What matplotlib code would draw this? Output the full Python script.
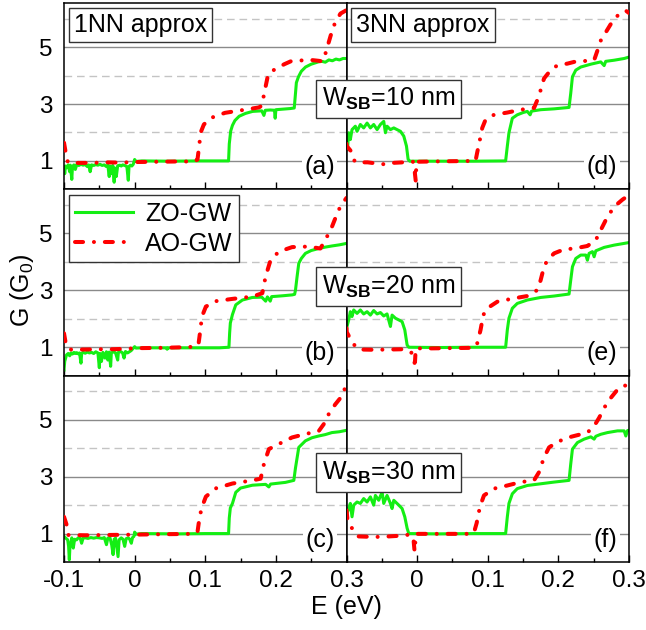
import matplotlib
matplotlib.use("Agg")
import matplotlib.pyplot as plt
from matplotlib.ticker import FixedLocator

plt.rcParams['font.family'] = ['Liberation Sans', 'DejaVu Sans']
plt.rcParams['mathtext.fontset'] = 'custom'
plt.rcParams['mathtext.rm'] = 'Liberation Sans'
plt.rcParams['mathtext.it'] = 'Liberation Sans:italic'
plt.rcParams['mathtext.bf'] = 'Liberation Sans:bold'

# ---------------- data: (E [eV], G [G0]) ----------------
# 1NN approximation, W_SB = 10 nm
ZO_A = [(-0.100, 0.80), (-0.099, 0.55), (-0.098, 0.82), (-0.096, 0.76), (-0.094, 0.86),
        (-0.092, 0.62), (-0.091, 0.85), (-0.089, 0.35), (-0.088, 0.80), (-0.086, 0.86),
        (-0.084, 0.70), (-0.082, 0.87), (-0.079, 0.84), (-0.076, 0.88), (-0.073, 0.85),
        (-0.070, 0.87), (-0.067, 0.80), (-0.065, 0.86), (-0.063, 0.62), (-0.061, 0.86),
        (-0.058, 0.84), (-0.055, 0.87), (-0.052, 0.85), (-0.049, 0.88), (-0.046, 0.84),
        (-0.043, 0.86), (-0.040, 0.80), (-0.038, 0.86), (-0.036, 0.45), (-0.035, 0.82),
        (-0.033, 0.55), (-0.031, 0.84), (-0.029, 0.25), (-0.028, 0.75), (-0.026, 0.45),
        (-0.024, 0.83), (-0.021, 0.85), (-0.019, 0.82), (-0.017, 0.86), (-0.014, 0.84),
        (-0.011, 0.80), (-0.009, 0.32), (-0.008, 0.80), (-0.006, 0.85), (-0.004, 0.82),
        (-0.002, 0.88), (0.000, 1.05), (0.002, 0.98), (0.010, 1.00), (0.050, 0.99),
        (0.090, 1.00), (0.120, 1.00), (0.133, 1.00), (0.134, 1.60), (0.136, 2.05),
        (0.1385, 2.25), (0.142, 2.42), (0.148, 2.57), (0.157, 2.67), (0.167, 2.74),
        (0.180, 2.76), (0.183, 2.60), (0.185, 2.78), (0.192, 2.79), (0.198, 2.78),
        (0.199, 2.50), (0.200, 2.80), (0.210, 2.82), (0.220, 2.84), (0.226, 2.86),
        (0.2275, 3.30), (0.229, 3.75), (0.232, 3.96), (0.236, 4.15), (0.242, 4.30),
        (0.250, 4.40), (0.260, 4.48), (0.265, 4.50), (0.270, 4.47), (0.275, 4.55),
        (0.280, 4.52), (0.285, 4.58), (0.290, 4.55), (0.295, 4.60), (0.300, 4.60)]
AO_A = [(-0.100, 1.64), (-0.098, 1.35), (-0.096, 1.05), (-0.094, 0.94), (-0.080, 0.93),
        (-0.060, 0.93), (-0.040, 0.95), (-0.020, 0.94), (0.000, 0.96), (0.030, 0.97),
        (0.060, 0.98), (0.085, 0.98), (0.089, 1.05), (0.0915, 1.55), (0.0935, 2.00),
        (0.098, 2.28), (0.104, 2.42), (0.109, 2.52), (0.128, 2.69), (0.156, 2.80),
        (0.176, 2.88), (0.180, 2.94), (0.1845, 3.50), (0.189, 4.04), (0.196, 4.18),
        (0.203, 4.28), (0.212, 4.40), (0.221, 4.50), (0.235, 4.53), (0.249, 4.55),
        (0.260, 4.52), (0.266, 4.50), (0.2705, 4.80), (0.2775, 5.40), (0.282, 5.75),
        (0.287, 6.00), (0.2915, 6.18), (0.300, 6.30)]

# 1NN approximation, W_SB = 20 nm
ZO_B = [(-0.100, 0.20), (-0.099, 0.50), (-0.0965, 0.73), (-0.094, 0.78), (-0.092, 0.70),
        (-0.090, 0.80), (-0.088, 0.76), (-0.086, 0.82), (-0.084, 0.78), (-0.082, 0.81),
        (-0.080, 0.77), (-0.078, 0.80), (-0.076, 0.44), (-0.075, 0.78), (-0.073, 0.82),
        (-0.070, 0.79), (-0.067, 0.83), (-0.064, 0.80), (-0.061, 0.82), (-0.058, 0.78),
        (-0.055, 0.84), (-0.052, 0.80), (-0.050, 0.28), (-0.049, 0.78), (-0.047, 0.50),
        (-0.045, 0.82), (-0.042, 0.62), (-0.040, 0.84), (-0.038, 0.55), (-0.036, 0.83),
        (-0.034, 0.33), (-0.033, 0.80), (-0.030, 0.84), (-0.027, 0.80), (-0.024, 0.55),
        (-0.023, 0.82), (-0.020, 0.85), (-0.017, 0.80), (-0.015, 0.62), (-0.013, 0.85),
        (-0.010, 0.80), (-0.005, 0.88), (0.000, 1.02), (0.002, 0.97), (0.010, 0.98),
        (0.045, 0.98), (0.046, 0.93), (0.047, 0.98), (0.090, 0.98), (0.120, 0.98),
        (0.1335, 1.00), (0.1345, 1.50), (0.1355, 1.85), (0.1385, 2.15), (0.1432, 2.49),
        (0.1526, 2.66), (0.1667, 2.75), (0.180, 2.76), (0.1855, 2.62), (0.188, 2.77),
        (0.192, 2.62), (0.194, 2.78), (0.200, 2.79), (0.210, 2.81), (0.223, 2.84),
        (0.2265, 2.86), (0.2277, 3.00), (0.2300, 3.48), (0.2324, 3.95), (0.236, 4.12),
        (0.2418, 4.30), (0.250, 4.40), (0.2606, 4.47), (0.270, 4.52), (0.2793, 4.56),
        (0.290, 4.60), (0.300, 4.65)]
AO_B = [(-0.100, 1.49), (-0.098, 1.20), (-0.096, 1.02), (-0.0915, 0.92), (-0.070, 0.92),
        (-0.050, 0.93), (-0.030, 0.93), (-0.010, 0.95), (0.010, 0.97), (0.040, 0.98),
        (0.070, 1.00), (0.087, 1.02), (0.0906, 1.14), (0.093, 1.60), (0.0953, 2.08),
        (0.1009, 2.43), (0.115, 2.62), (0.1385, 2.70), (0.1667, 2.78), (0.1808, 2.90),
        (0.1854, 3.48), (0.1925, 4.07), (0.2042, 4.36), (0.223, 4.52), (0.2465, 4.54),
        (0.2629, 4.47), (0.270, 4.77), (0.2793, 5.23), (0.2887, 5.82), (0.2958, 6.11),
        (0.300, 6.25)]

# 1NN approximation, W_SB = 30 nm
ZO_C = [(-0.100, 0.90), (-0.098, 0.85), (-0.0948, 0.78), (-0.0935, 0.55), (-0.0925, 0.08),
        (-0.0915, 0.60), (-0.0901, 0.70), (-0.089, 0.85), (-0.0869, 0.49), (-0.085, 0.80),
        (-0.0822, 0.78), (-0.080, 0.85), (-0.077, 0.83), (-0.0751, 0.66), (-0.073, 0.84),
        (-0.070, 0.85), (-0.066, 0.83), (-0.062, 0.86), (-0.058, 0.84), (-0.054, 0.86),
        (-0.050, 0.85), (-0.046, 0.83), (-0.043, 0.86), (-0.0399, 0.61), (-0.038, 0.84),
        (-0.035, 0.86), (-0.0325, 0.60), (-0.0305, 0.26), (-0.029, 0.80), (-0.027, 0.84),
        (-0.0235, 0.19), (-0.022, 0.78), (-0.019, 0.85), (-0.0165, 0.80), (-0.0141, 0.55),
        (-0.012, 0.82), (-0.009, 0.85), (-0.007, 0.80), (-0.0047, 0.66), (-0.003, 0.86),
        (-0.001, 0.90), (0.000, 1.05), (0.002, 0.98), (0.010, 1.00), (0.060, 0.99),
        (0.100, 1.00), (0.133, 1.00), (0.134, 1.55), (0.1355, 1.90), (0.1385, 2.06),
        (0.1432, 2.45), (0.150, 2.60), (0.1667, 2.70), (0.1855, 2.73), (0.190, 2.64),
        (0.1925, 2.74), (0.2136, 2.80), (0.2254, 2.87), (0.2277, 3.30), (0.2324, 4.03),
        (0.2418, 4.26), (0.2512, 4.37), (0.2606, 4.43), (0.270, 4.48), (0.2793, 4.55),
        (0.290, 4.58), (0.300, 4.63)]
AO_C = [(-0.100, 1.59), (-0.0962, 1.30), (-0.0939, 0.95), (-0.070, 0.94), (-0.040, 0.95),
        (-0.010, 0.96), (0.020, 0.97), (0.050, 0.98), (0.085, 0.99), (0.0892, 1.09),
        (0.0915, 1.50), (0.0948, 1.90), (0.1009, 2.30), (0.115, 2.59), (0.1385, 2.76),
        (0.1667, 2.87), (0.1784, 2.93), (0.1831, 3.45), (0.1901, 3.97), (0.2042, 4.15),
        (0.223, 4.38), (0.2418, 4.50), (0.2606, 4.60), (0.2676, 4.84), (0.2746, 5.19),
        (0.284, 5.54), (0.2934, 5.83), (0.298, 6.12), (0.300, 6.20)]

# 3NN approximation, W_SB = 10 nm
ZO_D = [(-0.100, 1.40), (-0.0983, 1.52), (-0.0969, 1.99), (-0.0946, 1.75), (-0.0922, 2.10),
        (-0.0875, 2.22), (-0.0851, 2.04), (-0.0804, 2.28), (-0.0757, 2.16), (-0.0709, 2.33),
        (-0.0662, 2.16), (-0.0615, 2.28), (-0.0567, 2.10), (-0.052, 2.28), (-0.0473, 2.39),
        (-0.0449, 1.99), (-0.0426, 2.22), (-0.0378, 2.10), (-0.0331, 2.16), (-0.0284, 2.10),
        (-0.0236, 2.04), (-0.0189, 1.87), (-0.0151, 1.52), (-0.0128, 1.06), (-0.0104, 0.99),
        (0.030, 0.99), (0.080, 0.99), (0.1253, 1.00), (0.1277, 1.52), (0.130, 1.99),
        (0.1348, 2.50), (0.1418, 2.62), (0.150, 2.70), (0.156, 2.74), (0.160, 2.62),
        (0.162, 2.75), (0.1749, 2.80), (0.1939, 2.83), (0.2151, 2.88), (0.2175, 3.38),
        (0.2199, 3.96), (0.2246, 4.19), (0.2317, 4.30), (0.2459, 4.40), (0.260, 4.48),
        (0.2648, 4.35), (0.267, 4.50), (0.279, 4.54), (0.2931, 4.60), (0.300, 4.65)]
AO_D = [(-0.100, 1.60), (-0.0996, 1.52), (-0.0939, 1.35), (-0.090, 1.05), (-0.087, 0.95),
        (-0.070, 0.95), (-0.055, 0.90), (-0.045, 0.88), (-0.035, 0.93), (-0.020, 0.95),
        (-0.006, 0.97), (-0.004, 0.75), (-0.002, 0.30), (-0.0015, 0.60), (-0.001, 0.97),
        (0.020, 0.98), (0.050, 0.99), (0.0827, 1.00), (0.085, 1.29), (0.0889, 1.75),
        (0.0922, 2.16), (0.0969, 2.45), (0.1087, 2.62), (0.1277, 2.70), (0.1466, 2.80),
        (0.1655, 2.86), (0.1702, 3.14), (0.1749, 3.49), (0.1797, 3.90), (0.1891, 4.19),
        (0.1986, 4.36), (0.2128, 4.42), (0.2222, 4.48), (0.2317, 4.50), (0.2506, 4.54),
        (0.2553, 4.88), (0.260, 5.23), (0.2671, 5.52), (0.2742, 5.81), (0.2813, 6.04),
        (0.2884, 6.22), (0.2955, 6.28), (0.300, 6.20)]

# 3NN approximation, W_SB = 20 nm
ZO_E = [(-0.100, 1.60), (-0.0993, 1.73), (-0.0969, 1.96), (-0.0946, 2.25), (-0.0922, 2.08),
        (-0.0898, 2.31), (-0.0851, 2.19), (-0.0804, 2.31), (-0.0757, 2.17), (-0.0709, 2.25),
        (-0.0662, 2.13), (-0.0615, 2.29), (-0.0567, 2.17), (-0.052, 2.22), (-0.0473, 2.10),
        (-0.0426, 2.17), (-0.0378, 1.73), (-0.0355, 2.13), (-0.0307, 2.02), (-0.026, 1.96),
        (-0.0213, 1.90), (-0.0175, 1.61), (-0.0142, 1.08), (-0.0118, 1.00), (0.030, 0.99),
        (0.080, 1.00), (0.1253, 1.00), (0.1277, 1.61), (0.130, 2.02), (0.1348, 2.37),
        (0.1418, 2.54), (0.156, 2.66), (0.1749, 2.75), (0.1939, 2.80), (0.2151, 2.87),
        (0.2175, 3.36), (0.2199, 3.83), (0.2246, 4.12), (0.2317, 4.24), (0.2388, 4.24),
        (0.2411, 4.06), (0.2435, 4.30), (0.2482, 4.36), (0.2506, 4.18), (0.253, 4.39),
        (0.2648, 4.51), (0.279, 4.59), (0.2931, 4.65), (0.300, 4.68)]
AO_E = [(-0.100, 1.67), (-0.0996, 1.53), (-0.0925, 1.20), (-0.0853, 0.96), (-0.080, 0.92),
        (-0.060, 0.91), (-0.040, 0.92), (-0.020, 0.93), (-0.0142, 0.90), (-0.007, 0.79),
        (-0.004, 0.60), (-0.0036, 0.45), (-0.003, 0.50), (-0.002, 0.96), (0.020, 0.96),
        (0.050, 0.97), (0.0804, 0.98), (0.0851, 1.14), (0.0898, 1.61), (0.0936, 2.13),
        (0.0993, 2.37), (0.1135, 2.60), (0.1371, 2.72), (0.156, 2.80), (0.1702, 3.01),
        (0.1749, 3.36), (0.1797, 3.83), (0.1844, 4.06), (0.1939, 4.30), (0.208, 4.44),
        (0.2222, 4.47), (0.2411, 4.56), (0.253, 4.77), (0.260, 5.12), (0.2671, 5.47),
        (0.2742, 5.76), (0.2813, 5.99), (0.2908, 6.19), (0.300, 6.35)]

# 3NN approximation, W_SB = 30 nm
ZO_F = [(-0.100, 1.55), (-0.0993, 1.71), (-0.0969, 1.88), (-0.0946, 2.06), (-0.0922, 1.59),
        (-0.0898, 2.00), (-0.0851, 2.11), (-0.0804, 2.06), (-0.0757, 2.23), (-0.0709, 2.11),
        (-0.0662, 2.29), (-0.0615, 2.00), (-0.0591, 2.34), (-0.0544, 2.17), (-0.0496, 2.46),
        (-0.0473, 2.06), (-0.0426, 2.34), (-0.0378, 2.06), (-0.0355, 1.88), (-0.0331, 2.17),
        (-0.026, 2.00), (-0.0213, 1.88), (-0.0175, 1.59), (-0.0142, 1.19), (-0.0118, 1.00),
        (0.030, 0.99), (0.080, 1.00), (0.1253, 1.00), (0.1277, 1.59), (0.130, 2.06),
        (0.1348, 2.40), (0.1418, 2.58), (0.156, 2.69), (0.1749, 2.75), (0.1939, 2.81),
        (0.2151, 2.87), (0.2175, 3.45), (0.2199, 3.97), (0.227, 4.20), (0.2364, 4.32),
        (0.2459, 4.40), (0.2506, 4.32), (0.253, 4.42), (0.260, 4.49), (0.2695, 4.55),
        (0.2837, 4.61), (0.2931, 4.61), (0.2955, 4.43), (0.2979, 4.62), (0.300, 4.63)]
AO_F = [(-0.100, 1.82), (-0.0986, 1.48), (-0.091, 1.13), (-0.083, 0.90), (-0.060, 0.88),
        (-0.040, 0.90), (-0.020, 0.93), (-0.010, 0.97), (-0.007, 0.90), (-0.005, 0.75),
        (-0.0036, 0.37), (-0.003, 0.50), (-0.002, 0.99), (0.030, 0.99), (0.0709, 0.99),
        (0.0804, 1.03), (0.0842, 1.36), (0.0889, 1.94), (0.0946, 2.34), (0.1087, 2.58),
        (0.1277, 2.69), (0.1466, 2.81), (0.1655, 2.87), (0.1726, 3.16), (0.1797, 3.68),
        (0.1868, 4.03), (0.1986, 4.22), (0.2128, 4.37), (0.2317, 4.49), (0.2411, 4.55),
        (0.2506, 4.78), (0.2577, 5.07), (0.2648, 5.42), (0.2742, 5.77), (0.2837, 6.06),
        (0.2931, 6.21), (0.300, 6.17)]

PANEL_LABELS = ['(a)', '(b)', '(c)', '(d)', '(e)', '(f)']
APPROX_LABELS = ['1NN approx', '3NN approx']
WSB_LABELS = [r'W$_{\mathbf{SB}}$=10 nm', r'W$_{\mathbf{SB}}$=20 nm', r'W$_{\mathbf{SB}}$=30 nm']
SERIES_NAMES = ['ZO-GW', 'AO-GW']
XTICKS = [-0.1, 0.0, 0.1, 0.2, 0.3]
XTICK_LABELS = ['-0.1', '0', '0.1', '0.2', '0.3']
YTICKS = [1, 3, 5]
GRID_SOLID = [1, 3, 5]
GRID_DASHED = [2, 4, 6]

GREEN = '#14ee14'
RED = '#ff0000'
FS = 18

fig = plt.figure(figsize=(6.46, 6.30), dpi=100)
gs = fig.add_gridspec(3, 2, left=0.0991, right=0.9737, top=0.9952, bottom=0.1079,
                      hspace=0, wspace=0)

columns = [[ZO_A, AO_A, ZO_B, AO_B, ZO_C, AO_C],
           [ZO_D, AO_D, ZO_E, AO_E, ZO_F, AO_F]]

axes = {}
for col in range(2):
    for row in range(3):
        ax = fig.add_subplot(gs[row, col])
        axes[(row, col)] = ax
        zo = columns[col][2 * row]
        ao = columns[col][2 * row + 1]
        for g in GRID_SOLID:
            ax.axhline(g, color='#8a8a8a', lw=1.0, zorder=0.5)
        for g in GRID_DASHED:
            ax.axhline(g, color='#c4c4c4', lw=1.0, dashes=(5.5, 3.5), zorder=0.5)
        ze, zg = zip(*zo)
        ae, ag = zip(*ao)
        ax.plot(ze, zg, color=GREEN, lw=2.2, zorder=2, label=SERIES_NAMES[0],
                solid_joinstyle='round')
        ax.plot(ae, ag, color=RED, lw=2.9, zorder=3, label=SERIES_NAMES[1],
                dashes=(2.0, 2.7, 0.01, 2.7), dash_capstyle='round')
        ax.set_xlim(-0.1, 0.3)
        ax.set_ylim(0, 6.55)
        ax.xaxis.set_major_locator(FixedLocator(XTICKS))
        ax.xaxis.set_minor_locator(FixedLocator([-0.05, 0.05, 0.15, 0.25]))
        ax.set_yticks(YTICKS)
        ax.tick_params(axis='x', which='major', direction='in', length=5, width=1,
                       top=False, labelsize=FS - 0.5, pad=6)
        ax.tick_params(axis='x', which='minor', direction='in', length=3, width=1, top=False)
        ax.tick_params(axis='y', which='major', direction='in', length=0,
                       labelsize=FS - 0.5, pad=8)
        for s in ax.spines.values():
            s.set_linewidth(1.1)
            s.set_color('black')
        if row == 2:
            labels = list(XTICK_LABELS)
            if col == 1:
                labels[0] = ''
            ax.set_xticklabels(labels)
        else:
            ax.set_xticklabels([])
        if col == 1:
            ax.set_yticklabels([])
        else:
            ax.set_yticklabels([str(v) for v in YTICKS])
        idx = col * 3 + row
        ax.text(0.958, 0.12, PANEL_LABELS[idx], transform=ax.transAxes, ha='right',
                va='center', fontsize=FS, zorder=5,
                bbox=dict(boxstyle='square,pad=0.1', fc='white', ec='none'))

# approximation labels
for col in range(2):
    axes[(0, col)].text(0.035, 0.945, APPROX_LABELS[col], transform=axes[(0, col)].transAxes,
                        ha='left', va='top', fontsize=FS, zorder=6,
                        bbox=dict(boxstyle='square,pad=0.2', fc='white', ec='#333333', lw=1.0))

# legend
leg = axes[(1, 0)].legend(loc='upper left', bbox_to_anchor=(0.0176, 0.968), borderaxespad=0,
                          fontsize=FS, handlelength=2.3, handletextpad=0.5, borderpad=0.25,
                          labelspacing=0.25, fancybox=False, framealpha=1, edgecolor='#333333')
leg.get_frame().set_linewidth(1.0)
leg.set_zorder(7)

# barrier width labels spanning both columns
for yc, txt in zip([0.8429, 0.5452, 0.2500], WSB_LABELS):
    fig.text(0.6014, yc, txt, ha='center', va='center', fontsize=FS, zorder=10,
             bbox=dict(boxstyle='square,pad=0.25', fc='white', ec='#333333', lw=1.0))

fig.text(0.536, 0.036, 'E (eV)', ha='center', va='center', fontsize=FS)
fig.text(0.034, 0.54, r'G (G$_0$)', ha='center', va='center', rotation=90, fontsize=FS)

fig.savefig('out.png', dpi=100)
